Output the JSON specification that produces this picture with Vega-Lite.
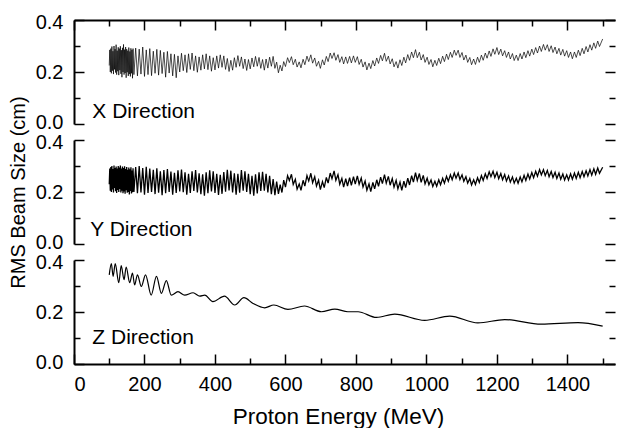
{
"$schema":"https://vega.github.io/schema/vega-lite/v6.json",
"padding":{"left":8,"top":12,"right":0,"bottom":0},
"bounds":"flush",
"spacing":16,
"config":{"view":{"stroke":null},"axis":{"domainColor":"#000","tickColor":"#000","labelColor":"#000","titleColor":"#000","domainWidth":2,"tickWidth":1.5,"labelFont":"Liberation Sans","titleFont":"Liberation Sans","grid":false,"minExtent":0,"titleFontWeight":"normal"},"axisX":{"minExtent":0},"axisY":{"minExtent":0}},
"datasets":{
"xy":[
{"e":100,"x":0.225,"y":0.230},{"e":101.5,"x":0.285,"y":0.290},{"e":103,"x":0.200,"y":0.205},{"e":104.5,"x":0.290,"y":0.296},{"e":106,"x":0.195,"y":0.200},{"e":107.5,"x":0.298,"y":0.300},{"e":109,"x":0.205,"y":0.210},{"e":110.5,"x":0.280,"y":0.288},{"e":112,"x":0.192,"y":0.198},{"e":113.5,"x":0.300,"y":0.302},{"e":115,"x":0.210,"y":0.215},{"e":116.5,"x":0.288,"y":0.292},{"e":118,"x":0.198,"y":0.203},{"e":119.5,"x":0.305,"y":0.298},{"e":121,"x":0.190,"y":0.196},{"e":122.5,"x":0.282,"y":0.290},{"e":124,"x":0.203,"y":0.208},{"e":125.5,"x":0.295,"y":0.300},{"e":127,"x":0.188,"y":0.200},{"e":128.5,"x":0.290,"y":0.294},{"e":130,"x":0.207,"y":0.212},{"e":131.5,"x":0.299,"y":0.302},{"e":133,"x":0.193,"y":0.198},{"e":134.5,"x":0.284,"y":0.290},{"e":136,"x":0.180,"y":0.205},{"e":137.5,"x":0.293,"y":0.298},{"e":139,"x":0.200,"y":0.195},{"e":140.5,"x":0.306,"y":0.292},{"e":142,"x":0.190,"y":0.202},{"e":143.5,"x":0.286,"y":0.299},{"e":145,"x":0.196,"y":0.193},{"e":146.5,"x":0.296,"y":0.288},{"e":148,"x":0.178,"y":0.207},{"e":149.5,"x":0.288,"y":0.296},{"e":151,"x":0.199,"y":0.197},{"e":152.5,"x":0.282,"y":0.286},{"e":154,"x":0.185,"y":0.200},{"e":155.5,"x":0.294,"y":0.294},{"e":157,"x":0.192,"y":0.190},{"e":158.5,"x":0.279,"y":0.287},{"e":160,"x":0.183,"y":0.204},{"e":161.5,"x":0.291,"y":0.295},{"e":163,"x":0.195,"y":0.194},{"e":164.5,"x":0.285,"y":0.283},{"e":166,"x":0.176,"y":0.199},{"e":167.5,"x":0.290,"y":0.291},
{"e":170,"x":0.190,"y":0.200},{"e":175,"x":0.292,"y":0.296},{"e":180,"x":0.185,"y":0.195},{"e":185,"x":0.288,"y":0.300},{"e":190,"x":0.192,"y":0.198},{"e":195,"x":0.296,"y":0.292},{"e":200,"x":0.183,"y":0.190},{"e":205,"x":0.285,"y":0.297},{"e":210,"x":0.190,"y":0.196},{"e":215,"x":0.290,"y":0.290},{"e":220,"x":0.186,"y":0.200},{"e":225,"x":0.280,"y":0.285},{"e":230,"x":0.195,"y":0.192},{"e":235,"x":0.287,"y":0.291},{"e":240,"x":0.188,"y":0.197},{"e":245,"x":0.283,"y":0.280},{"e":250,"x":0.194,"y":0.188},{"e":255,"x":0.276,"y":0.284},{"e":260,"x":0.180,"y":0.195},{"e":265,"x":0.279,"y":0.288},{"e":270,"x":0.196,"y":0.200},{"e":275,"x":0.270,"y":0.279},{"e":280,"x":0.185,"y":0.190},{"e":285,"x":0.268,"y":0.274},{"e":290,"x":0.178,"y":0.196},{"e":295,"x":0.262,"y":0.283},{"e":300,"x":0.200,"y":0.202},{"e":305,"x":0.272,"y":0.286},{"e":310,"x":0.205,"y":0.199},{"e":315,"x":0.266,"y":0.276},{"e":320,"x":0.198,"y":0.190},{"e":325,"x":0.270,"y":0.270},{"e":330,"x":0.210,"y":0.196},{"e":335,"x":0.273,"y":0.280},{"e":340,"x":0.205,"y":0.204},{"e":345,"x":0.262,"y":0.284},{"e":350,"x":0.199,"y":0.198},{"e":355,"x":0.258,"y":0.272},{"e":360,"x":0.207,"y":0.192},{"e":365,"x":0.266,"y":0.268},{"e":370,"x":0.212,"y":0.186},{"e":375,"x":0.270,"y":0.276},{"e":380,"x":0.209,"y":0.195},{"e":385,"x":0.262,"y":0.283},{"e":390,"x":0.203,"y":0.202},{"e":395,"x":0.255,"y":0.280},{"e":400,"x":0.208,"y":0.196},{"e":405,"x":0.262,"y":0.270},{"e":410,"x":0.215,"y":0.189},{"e":415,"x":0.266,"y":0.266},{"e":420,"x":0.218,"y":0.193},{"e":425,"x":0.262,"y":0.277},{"e":430,"x":0.210,"y":0.201},{"e":435,"x":0.252,"y":0.285},{"e":440,"x":0.202,"y":0.206},{"e":445,"x":0.245,"y":0.282},{"e":450,"x":0.207,"y":0.198},{"e":455,"x":0.255,"y":0.272},{"e":460,"x":0.218,"y":0.190},{"e":465,"x":0.263,"y":0.270},{"e":470,"x":0.222,"y":0.197},{"e":475,"x":0.258,"y":0.284},{"e":480,"x":0.213,"y":0.205},{"e":485,"x":0.250,"y":0.280},{"e":490,"x":0.206,"y":0.200},{"e":495,"x":0.248,"y":0.270},{"e":500,"x":0.212,"y":0.192},{"e":505,"x":0.254,"y":0.262},{"e":510,"x":0.220,"y":0.186},{"e":515,"x":0.260,"y":0.268},{"e":520,"x":0.222,"y":0.194},{"e":525,"x":0.256,"y":0.276},{"e":530,"x":0.214,"y":0.204},{"e":535,"x":0.248,"y":0.278},{"e":540,"x":0.207,"y":0.205},{"e":545,"x":0.250,"y":0.270},{"e":550,"x":0.215,"y":0.198},{"e":555,"x":0.257,"y":0.262},{"e":560,"x":0.222,"y":0.192},{"e":565,"x":0.260,"y":0.250},{"e":570,"x":0.214,"y":0.188},{"e":575,"x":0.238,"y":0.240},{"e":580,"x":0.197,"y":0.193},{"e":585,"x":0.226,"y":0.228},{"e":590,"x":0.204,"y":0.198},{"e":595,"x":0.240,"y":0.246},
{"e":600,"x":0.221,"y":0.219},{"e":606,"x":0.255,"y":0.263},{"e":611,"x":0.236,"y":0.244},{"e":617,"x":0.259,"y":0.268},{"e":622,"x":0.228,"y":0.229},{"e":628,"x":0.249,"y":0.249},{"e":633,"x":0.219,"y":0.211},{"e":639,"x":0.239,"y":0.231},{"e":644,"x":0.216,"y":0.206},{"e":650,"x":0.249,"y":0.245},{"e":655,"x":0.228,"y":0.223},{"e":661,"x":0.261,"y":0.263},{"e":666,"x":0.240,"y":0.242},{"e":672,"x":0.266,"y":0.272},{"e":677,"x":0.234,"y":0.236},{"e":683,"x":0.254,"y":0.259},{"e":688,"x":0.222,"y":0.223},{"e":694,"x":0.241,"y":0.245},{"e":699,"x":0.214,"y":0.209},{"e":705,"x":0.247,"y":0.240},{"e":710,"x":0.227,"y":0.217},{"e":716,"x":0.260,"y":0.256},{"e":721,"x":0.240,"y":0.234},{"e":727,"x":0.273,"y":0.273},{"e":732,"x":0.252,"y":0.251},{"e":738,"x":0.274,"y":0.281},{"e":743,"x":0.245,"y":0.245},{"e":749,"x":0.267,"y":0.267},{"e":754,"x":0.237,"y":0.230},{"e":760,"x":0.259,"y":0.252},{"e":765,"x":0.231,"y":0.219},{"e":771,"x":0.258,"y":0.251},{"e":776,"x":0.233,"y":0.223},{"e":782,"x":0.260,"y":0.255},{"e":787,"x":0.235,"y":0.226},{"e":793,"x":0.262,"y":0.259},{"e":798,"x":0.237,"y":0.230},{"e":804,"x":0.259,"y":0.262},{"e":809,"x":0.229,"y":0.230},{"e":815,"x":0.249,"y":0.254},{"e":820,"x":0.219,"y":0.219},{"e":826,"x":0.239,"y":0.242},{"e":831,"x":0.208,"y":0.207},{"e":837,"x":0.234,"y":0.231},{"e":842,"x":0.213,"y":0.202},{"e":848,"x":0.244,"y":0.237},{"e":853,"x":0.223,"y":0.212},{"e":859,"x":0.254,"y":0.247},{"e":864,"x":0.233,"y":0.222},{"e":870,"x":0.264,"y":0.257},{"e":875,"x":0.243,"y":0.232},{"e":881,"x":0.272,"y":0.267},{"e":886,"x":0.241,"y":0.234},{"e":892,"x":0.261,"y":0.260},{"e":897,"x":0.231,"y":0.226},{"e":903,"x":0.251,"y":0.252},{"e":908,"x":0.220,"y":0.219},{"e":914,"x":0.240,"y":0.245},{"e":919,"x":0.215,"y":0.212},{"e":925,"x":0.247,"y":0.238},{"e":930,"x":0.225,"y":0.206},{"e":936,"x":0.257,"y":0.242},{"e":941,"x":0.235,"y":0.217},{"e":947,"x":0.267,"y":0.253},{"e":952,"x":0.245,"y":0.227},{"e":958,"x":0.277,"y":0.263},{"e":963,"x":0.255,"y":0.238},{"e":969,"x":0.286,"y":0.274},{"e":974,"x":0.255,"y":0.244},{"e":980,"x":0.276,"y":0.271},{"e":985,"x":0.246,"y":0.237},{"e":991,"x":0.267,"y":0.264},{"e":996,"x":0.237,"y":0.231},{"e":1002,"x":0.257,"y":0.253},{"e":1007,"x":0.229,"y":0.228},{"e":1013,"x":0.248,"y":0.246},{"e":1018,"x":0.220,"y":0.221},{"e":1024,"x":0.245,"y":0.241},{"e":1029,"x":0.225,"y":0.222},{"e":1035,"x":0.253,"y":0.247},{"e":1040,"x":0.232,"y":0.228},{"e":1046,"x":0.261,"y":0.253},{"e":1051,"x":0.240,"y":0.234},{"e":1057,"x":0.269,"y":0.260},{"e":1062,"x":0.248,"y":0.241},{"e":1068,"x":0.276,"y":0.266},{"e":1073,"x":0.256,"y":0.247},{"e":1079,"x":0.284,"y":0.273},{"e":1084,"x":0.264,"y":0.253},{"e":1090,"x":0.284,"y":0.273},{"e":1095,"x":0.256,"y":0.248},{"e":1101,"x":0.275,"y":0.266},{"e":1106,"x":0.246,"y":0.241},{"e":1112,"x":0.265,"y":0.259},{"e":1117,"x":0.237,"y":0.234},{"e":1123,"x":0.256,"y":0.252},{"e":1128,"x":0.228,"y":0.227},{"e":1134,"x":0.250,"y":0.247},{"e":1139,"x":0.229,"y":0.229},{"e":1145,"x":0.257,"y":0.255},{"e":1150,"x":0.237,"y":0.237},{"e":1156,"x":0.265,"y":0.263},{"e":1161,"x":0.245,"y":0.244},{"e":1167,"x":0.273,"y":0.270},{"e":1172,"x":0.253,"y":0.252},{"e":1178,"x":0.281,"y":0.278},{"e":1183,"x":0.260,"y":0.259},{"e":1189,"x":0.289,"y":0.280},{"e":1194,"x":0.268,"y":0.256},{"e":1200,"x":0.294,"y":0.276},{"e":1205,"x":0.267,"y":0.251},{"e":1211,"x":0.288,"y":0.271},{"e":1216,"x":0.262,"y":0.247},{"e":1222,"x":0.282,"y":0.267},{"e":1227,"x":0.256,"y":0.242},{"e":1233,"x":0.277,"y":0.262},{"e":1238,"x":0.250,"y":0.238},{"e":1244,"x":0.271,"y":0.258},{"e":1249,"x":0.244,"y":0.234},{"e":1255,"x":0.265,"y":0.253},{"e":1260,"x":0.244,"y":0.234},{"e":1266,"x":0.271,"y":0.258},{"e":1271,"x":0.250,"y":0.239},{"e":1277,"x":0.277,"y":0.264},{"e":1282,"x":0.255,"y":0.244},{"e":1288,"x":0.282,"y":0.269},{"e":1293,"x":0.261,"y":0.250},{"e":1299,"x":0.288,"y":0.275},{"e":1304,"x":0.267,"y":0.255},{"e":1310,"x":0.294,"y":0.280},{"e":1315,"x":0.273,"y":0.261},{"e":1321,"x":0.300,"y":0.286},{"e":1326,"x":0.279,"y":0.266},{"e":1332,"x":0.306,"y":0.286},{"e":1337,"x":0.284,"y":0.263},{"e":1343,"x":0.305,"y":0.283},{"e":1348,"x":0.279,"y":0.259},{"e":1354,"x":0.301,"y":0.279},{"e":1359,"x":0.275,"y":0.256},{"e":1365,"x":0.296,"y":0.276},{"e":1370,"x":0.270,"y":0.252},{"e":1376,"x":0.291,"y":0.273},{"e":1381,"x":0.265,"y":0.249},{"e":1387,"x":0.287,"y":0.269},{"e":1392,"x":0.261,"y":0.246},{"e":1398,"x":0.282,"y":0.266},{"e":1403,"x":0.256,"y":0.246},{"e":1409,"x":0.277,"y":0.270},{"e":1414,"x":0.251,"y":0.249},{"e":1420,"x":0.277,"y":0.273},{"e":1425,"x":0.256,"y":0.252},{"e":1431,"x":0.284,"y":0.276},{"e":1436,"x":0.263,"y":0.255},{"e":1442,"x":0.291,"y":0.279},{"e":1447,"x":0.270,"y":0.259},{"e":1453,"x":0.298,"y":0.282},{"e":1458,"x":0.277,"y":0.262},{"e":1464,"x":0.305,"y":0.286},{"e":1469,"x":0.284,"y":0.265},{"e":1475,"x":0.312,"y":0.289},{"e":1480,"x":0.291,"y":0.268},{"e":1486,"x":0.319,"y":0.292},{"e":1491,"x":0.298,"y":0.272},{"e":1500,"x":0.327,"y":0.295}
],
"z":[
{"e":100,"v":0.343},{"e":106,"v":0.386},{"e":111,"v":0.337},{"e":117,"v":0.386},{"e":127,"v":0.313},{"e":134,"v":0.378},{"e":142,"v":0.324},{"e":148,"v":0.373},{"e":158,"v":0.313},{"e":166,"v":0.350},{"e":172,"v":0.304},{"e":180,"v":0.343},{"e":191,"v":0.298},{"e":203,"v":0.343},{"e":219,"v":0.265},{"e":234,"v":0.337},{"e":248,"v":0.272},{"e":262,"v":0.321},{"e":276,"v":0.265},{"e":295,"v":0.278},{"e":314,"v":0.265},{"e":338,"v":0.274},{"e":357,"v":0.261},{"e":371,"v":0.265},{"e":394,"v":0.240},{"e":427,"v":0.261},{"e":456,"v":0.227},{"e":482,"v":0.255},{"e":508,"v":0.233},{"e":541,"v":0.216},{"e":567,"v":0.227},{"e":607,"v":0.210},{"e":654,"v":0.223},{"e":702,"v":0.201},{"e":740,"v":0.211},{"e":777,"v":0.201},{"e":806,"v":0.201},{"e":858,"v":0.179},{"e":910,"v":0.192},{"e":995,"v":0.168},{"e":1066,"v":0.184},{"e":1146,"v":0.158},{"e":1222,"v":0.171},{"e":1326,"v":0.153},{"e":1430,"v":0.159},{"e":1500,"v":0.146}
]
},
"vconcat":[
{"width":541,"height":104,"data":{"name":"xy"},
 "resolve":{"axis":{"x":"independent","y":"independent"}},
 "layer":[
  {"mark":{"type":"line","color":"#000","strokeWidth":0.7},
   "encoding":{
    "x":{"field":"e","type":"quantitative","scale":{"domain":[0,1535],"nice":false,"zero":false},"axis":{"orient":"top","ticks":false,"labels":false,"domain":true,"title":null}},
    "y":{"field":"x","type":"quantitative","scale":{"domain":[0,0.4],"nice":false},"axis":{"orient":"left","values":[0,0.2,0.4],"format":".1f","ticks":false,"labelPadding":11,"labelFontSize":20,"labelFlush":true,"labelFlushOffset":8,"title":null}}}},
  {"mark":{"type":"line","strokeOpacity":0},
   "encoding":{
    "x":{"field":"e","type":"quantitative","axis":{"orient":"top","values":[0,200,400,600,800,1000,1200,1400],"tickSize":-10,"domain":false,"labels":false,"title":null}},
    "y":{"field":"x","type":"quantitative","axis":{"orient":"left","values":[0,0.2,0.4],"tickSize":-10,"domain":false,"labels":false,"title":null}}}},
  {"mark":{"type":"line","strokeOpacity":0},
   "encoding":{
    "x":{"field":"e","type":"quantitative","axis":{"orient":"top","values":[100,300,500,700,900,1100,1300,1500],"tickSize":-6,"domain":false,"labels":false,"title":null}},
    "y":{"field":"x","type":"quantitative","axis":{"orient":"left","values":[0.1,0.3],"tickSize":-6,"domain":false,"labels":false,"title":null}}}},
  {"mark":{"type":"line","strokeOpacity":0},
   "encoding":{
    "x":{"field":"e","type":"quantitative","axis":null},
    "y":{"field":"x","type":"quantitative","axis":{"orient":"right","values":[0,0.2,0.4],"tickSize":-10,"domain":false,"labels":false,"title":null}}}},
  {"mark":{"type":"line","strokeOpacity":0},
   "encoding":{
    "x":{"field":"e","type":"quantitative","axis":null},
    "y":{"field":"x","type":"quantitative","axis":{"orient":"right","values":[0.1,0.3],"tickSize":-6,"domain":false,"labels":false,"title":null}}}},
  {"data":{"values":[{"label":"X Direction"}]},
   "mark":{"type":"text","align":"left","baseline":"alphabetic","font":"Liberation Sans","fontSize":21,"color":"#000"},
   "encoding":{"x":{"datum":52,"type":"quantitative","axis":null},"y":{"datum":0.022,"type":"quantitative","axis":null},"text":{"field":"label"}}}
 ]},
{"width":541,"height":104,"data":{"name":"xy"},
 "resolve":{"axis":{"x":"independent","y":"independent"}},
 "layer":[
  {"mark":{"type":"line","color":"#000","strokeWidth":1.3},
   "encoding":{
    "x":{"field":"e","type":"quantitative","scale":{"domain":[0,1535],"nice":false,"zero":false},"axis":null},
    "y":{"field":"y","type":"quantitative","scale":{"domain":[0,0.4],"nice":false},"axis":{"orient":"left","values":[0,0.2,0.4],"format":".1f","ticks":false,"labelPadding":11,"labelFontSize":20,"labelFlush":true,"labelFlushOffset":8,"title":"RMS Beam Size (cm)","titleFontSize":20,"titlePadding":7}}}},
  {"mark":{"type":"line","strokeOpacity":0},
   "encoding":{
    "x":{"field":"e","type":"quantitative","axis":null},
    "y":{"field":"y","type":"quantitative","axis":{"orient":"left","values":[0,0.2,0.4],"tickSize":-10,"domain":false,"labels":false,"title":null}}}},
  {"mark":{"type":"line","strokeOpacity":0},
   "encoding":{
    "x":{"field":"e","type":"quantitative","axis":null},
    "y":{"field":"y","type":"quantitative","axis":{"orient":"left","values":[0.1,0.3],"tickSize":-6,"domain":false,"labels":false,"title":null}}}},
  {"mark":{"type":"line","strokeOpacity":0},
   "encoding":{
    "x":{"field":"e","type":"quantitative","axis":null},
    "y":{"field":"y","type":"quantitative","axis":{"orient":"right","values":[0,0.2,0.4],"tickSize":-10,"domain":false,"labels":false,"title":null}}}},
  {"mark":{"type":"line","strokeOpacity":0},
   "encoding":{
    "x":{"field":"e","type":"quantitative","axis":null},
    "y":{"field":"y","type":"quantitative","axis":{"orient":"right","values":[0.1,0.3],"tickSize":-6,"domain":false,"labels":false,"title":null}}}},
  {"data":{"values":[{"label":"Y Direction"}]},
   "mark":{"type":"text","align":"left","baseline":"alphabetic","font":"Liberation Sans","fontSize":21,"color":"#000"},
   "encoding":{"x":{"datum":46,"type":"quantitative","axis":null},"y":{"datum":0.03,"type":"quantitative","axis":null},"text":{"field":"label"}}}
 ]},
{"width":541,"height":104,"data":{"name":"z"},
 "resolve":{"axis":{"x":"independent","y":"independent"}},
 "layer":[
  {"mark":{"type":"line","color":"#000","strokeWidth":1.2,"interpolate":"monotone"},
   "encoding":{
    "x":{"field":"e","type":"quantitative","scale":{"domain":[0,1535],"nice":false,"zero":false},"axis":{"orient":"bottom","values":[0,200,400,600,800,1000,1200,1400],"format":"d","ticks":false,"labelPadding":10,"labelFontSize":20,"title":"Proton Energy (MeV)","titleFontSize":22.5,"titlePadding":11,"titleX":264}},
    "y":{"field":"v","type":"quantitative","scale":{"domain":[0,0.4],"nice":false},"axis":{"orient":"left","values":[0,0.2,0.4],"format":".1f","ticks":false,"labelPadding":11,"labelFontSize":20,"labelFlush":true,"labelFlushOffset":8,"title":null}}}},
  {"mark":{"type":"line","strokeOpacity":0},
   "encoding":{
    "x":{"field":"e","type":"quantitative","axis":{"orient":"bottom","values":[0,200,400,600,800,1000,1200,1400],"tickSize":-10,"domain":false,"labels":false,"title":null}},
    "y":{"field":"v","type":"quantitative","axis":{"orient":"left","values":[0,0.2,0.4],"tickSize":-10,"domain":false,"labels":false,"title":null}}}},
  {"mark":{"type":"line","strokeOpacity":0},
   "encoding":{
    "x":{"field":"e","type":"quantitative","axis":{"orient":"bottom","values":[100,300,500,700,900,1100,1300,1500],"tickSize":-6,"domain":false,"labels":false,"title":null}},
    "y":{"field":"v","type":"quantitative","axis":{"orient":"left","values":[0.1,0.3],"tickSize":-6,"domain":false,"labels":false,"title":null}}}},
  {"mark":{"type":"line","strokeOpacity":0},
   "encoding":{
    "x":{"field":"e","type":"quantitative","axis":null},
    "y":{"field":"v","type":"quantitative","axis":{"orient":"right","values":[0,0.2,0.4],"tickSize":-10,"domain":false,"labels":false,"title":null}}}},
  {"mark":{"type":"line","strokeOpacity":0},
   "encoding":{
    "x":{"field":"e","type":"quantitative","axis":null},
    "y":{"field":"v","type":"quantitative","axis":{"orient":"right","values":[0.1,0.3],"tickSize":-6,"domain":false,"labels":false,"title":null}}}},
  {"data":{"values":[{"label":"Z Direction"}]},
   "mark":{"type":"text","align":"left","baseline":"alphabetic","font":"Liberation Sans","fontSize":21,"color":"#000"},
   "encoding":{"x":{"datum":52,"type":"quantitative","axis":null},"y":{"datum":0.078,"type":"quantitative","axis":null},"text":{"field":"label"}}}
 ]}
]
}
